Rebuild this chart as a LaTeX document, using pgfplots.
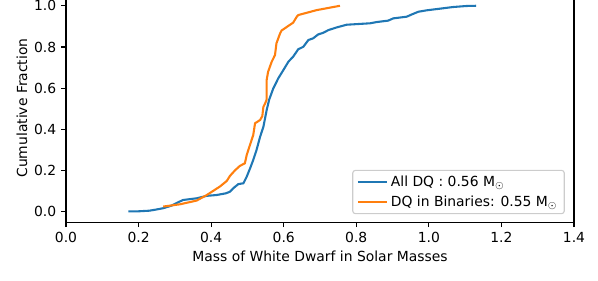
\documentclass[border=0pt]{standalone}
\usepackage{fontspec}
\setmainfont{DejaVu Sans}
\usepackage{pgfplots}
\pgfplotsset{compat=1.18}
\definecolor{tabblue}{HTML}{1F77B4}
\definecolor{taborange}{HTML}{FF7F0E}
\begin{document}
\begin{tikzpicture}
\begin{axis}[
  at={(0,0)}, anchor=south west,
  scale only axis,
  width=365.76pt, height=160.0pt,
  xmin=0, xmax=1.4, ymin=-0.05, ymax=1.028,
  axis x line*=bottom,
  x axis line style={-},
  axis line style={line width=0.8pt, black},
  xtick={0,0.2,0.4,0.6,0.8,1.0,1.2,1.4},
  ytick={0,0.2,0.4,0.6,0.8,1.0},
  tick align=outside, xtick pos=bottom, ytick pos=left,
  major tick length=3.5pt,
  every tick/.style={black, line width=0.8pt},
  /pgf/number format/assume math mode=true,
  xticklabel style={/pgf/number format/.cd, fixed, fixed zerofill, precision=1},
  yticklabel style={/pgf/number format/.cd, fixed, fixed zerofill, precision=1},
  xlabel={Mass of White Dwarf in Solar Masses},
  ylabel={Cumulative Fraction},
  xlabel style={at={(axis description cs:0.5,-0.152)}, anchor=center},
  ylabel style={at={(axis description cs:-0.0867,0.514)}, anchor=center},
  legend style={at={(axis description cs:0.982,0.036)}, anchor=south east,
    draw=black!20, rounded corners=2pt, fill=white, fill opacity=0.8, text opacity=1,
    line width=0.8pt, font=\normalsize, row sep=1pt, inner xsep=3pt, inner ysep=2pt},
  legend cell align=left,
  legend image code/.code={\draw[#1] (0pt,0pt) -- (21pt,0pt);},
]
\addplot[tabblue, line width=1.5pt] coordinates {
(0.172,0.003) (0.200,0.003) (0.230,0.006) (0.250,0.012) (0.268,0.018)
(0.290,0.030) (0.309,0.047) (0.323,0.058) (0.360,0.066) (0.388,0.078)
(0.415,0.082) (0.440,0.090) (0.452,0.098) (0.461,0.115) (0.475,0.135)
(0.489,0.139) (0.498,0.171) (0.507,0.210) (0.516,0.252) (0.525,0.300)
(0.535,0.365) (0.544,0.413) (0.553,0.494) (0.560,0.545) (0.571,0.598)
(0.585,0.648) (0.599,0.688) (0.613,0.729) (0.626,0.753) (0.640,0.789)
(0.654,0.801) (0.668,0.834) (0.681,0.842) (0.695,0.861) (0.709,0.869)
(0.723,0.882) (0.746,0.895) (0.773,0.908) (0.838,0.915) (0.856,0.921)
(0.888,0.928) (0.902,0.939) (0.939,0.947) (0.953,0.958) (0.971,0.971)
(0.994,0.978) (1.031,0.986) (1.067,0.994) (1.104,0.999) (1.130,1.000)
};
\addlegendentry{All DQ : 0.56 M$_\odot$}
\addplot[taborange, line width=1.5pt] coordinates {
(0.268,0.026) (0.314,0.037) (0.360,0.055) (0.388,0.082) (0.424,0.123)
(0.443,0.150) (0.452,0.175) (0.466,0.202) (0.479,0.223) (0.493,0.236)
(0.498,0.276) (0.507,0.325) (0.516,0.373) (0.521,0.430) (0.535,0.446)
(0.541,0.465) (0.544,0.510) (0.549,0.527) (0.553,0.545) (0.553,0.640)
(0.557,0.680) (0.567,0.729) (0.576,0.761) (0.580,0.818) (0.590,0.866)
(0.594,0.880) (0.626,0.918) (0.636,0.947) (0.640,0.955) (0.691,0.979)
(0.755,1.000)
};
\addlegendentry{DQ in Binaries: 0.55 M$_\odot$}
\end{axis}
\pgfresetboundingbox
\path[use as bounding box] (-47.52pt,-41.6pt) rectangle (383.04pt,160.0pt);
\end{tikzpicture}
\end{document}
